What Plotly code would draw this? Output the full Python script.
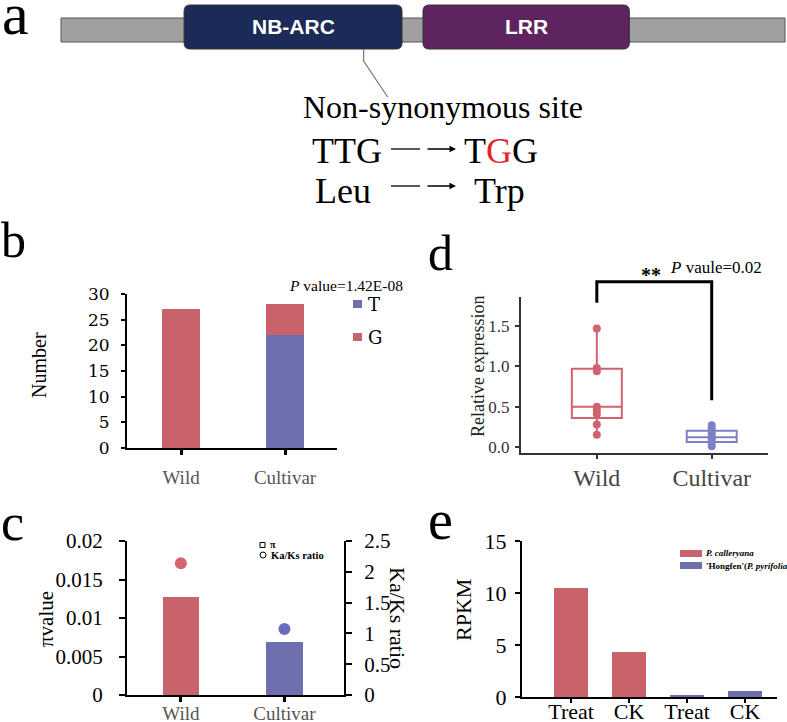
import plotly.graph_objects as go

W, H = 787, 722

# ---------------- data ----------------
# panel a : protein schematic (relative residue positions)
gene_len = 1000
domain_names = ["NB-ARC", "LRR"]
domain_start = [170, 500]
domain_end = [471, 785]
site_pos = 418

# panel b : allele counts
b_groups = ["Wild", "Cultivar"]
b_T = [0, 22]
b_G = [27, 6]
b_yticks = [0, 5, 10, 15, 20, 25, 30]

# panel c : pi and Ka/Ks
c_groups = ["Wild", "Cultivar"]
c_pi = [0.0127, 0.0069]
c_kaks = [2.14, 1.07]
c_left_ticks = [0, 0.005, 0.01, 0.015, 0.02]
c_left_text = ["0", "0.005", "0.01", "0.015", "0.02"]
c_right_ticks = [0, 0.5, 1, 1.5, 2, 2.5]
c_right_text = ["0", "0.5", "1", "1.5", "2", "2.5"]

# panel d : relative expression
d_groups = ["Wild", "Cultivar"]
d_wild_pts = [1.47, 0.98, 0.94, 0.50, 0.46, 0.41, 0.28, 0.15]
d_cult_pts = [0.27, 0.23, 0.19, 0.15, 0.12, 0.09, 0.05, 0.01]
d_q1 = [0.36, 0.06]
d_median = [0.50, 0.12]
d_q3 = [0.97, 0.20]
d_lowerfence = [0.15, 0.01]
d_upperfence = [1.47, 0.27]
d_yticks = [0, 0.5, 1.0, 1.5]
d_ytext = ["0.0", "0.5", "1.0", "1.5"]

# panel e : RPKM
e_labels = ["Treat", "CK", "Treat", "CK"]
e_calleryana = [10.5, 4.3]
e_hongfen = [0.15, 0.6]
e_yticks = [0, 5, 10, 15]

# ---------------- styles ----------------
RED = "#c8636c"
BLUE = "#6d6fae"
RED_D = "#d0636f"
BLUE_D = "#7f80c4"
SERIF = "Liberation Serif"


def px(x):
    return x / W


def py(y):
    return 1 - y / H


fig = go.Figure()
shapes = []
anns = []


def ann(text, x, y, size, color="black", family=SERIF, xanchor="center",
        yanchor="middle", angle=0):
    anns.append(dict(text=text, x=px(x), y=py(y), xref="paper", yref="paper",
                     showarrow=False, xanchor=xanchor, yanchor=yanchor,
                     textangle=angle, font=dict(family=family, size=size, color=color)))


# ---------------- panel a ----------------
A_X0, A_X1 = 61, 785


def a_x(pos):
    return A_X0 + pos / gene_len * (A_X1 - A_X0)


def rrect(x0, y0, x1, y1, r):
    X0, X1 = px(x0), px(x1)
    Y0, Y1 = py(y0), py(y1)
    rx, ry = r / W, r / H
    return (f"M{X0+rx},{Y0} L{X1-rx},{Y0} Q{X1},{Y0} {X1},{Y0-ry} "
            f"L{X1},{Y1+ry} Q{X1},{Y1} {X1-rx},{Y1} L{X0+rx},{Y1} "
            f"Q{X0},{Y1} {X0},{Y1+ry} L{X0},{Y0-ry} Q{X0},{Y0} {X0+rx},{Y0} Z")


shapes.append(dict(type="rect", xref="paper", yref="paper",
                   x0=px(a_x(0)), x1=px(a_x(gene_len)), y0=py(42), y1=py(18),
                   fillcolor="#a0a0a0", line=dict(color="#555555", width=1)))
dom_colors = ["#1c2a57", "#5d2460"]
for name, s, e, col in zip(domain_names, domain_start, domain_end, dom_colors):
    shapes.append(dict(type="path", xref="paper", yref="paper",
                       path=rrect(a_x(s), 5, a_x(e), 49, 6),
                       fillcolor=col, line=dict(color="#333333", width=1)))
    ann(f"<b>{name}</b>", (a_x(s) + a_x(e)) / 2, 27, 21, color="white",
        family="Liberation Sans")

sx = a_x(site_pos)
shapes.append(dict(type="path", xref="paper", yref="paper",
                   path=f"M{px(sx)},{py(49)} L{px(sx)},{py(61)} L{px(sx+24)},{py(97)}",
                   line=dict(color="#777777", width=1.2)))
ann("Non-synonymous site", 443, 107, 32)
ann("TTG", 310, 151, 36, xanchor="left")
ann("T<span style='color:#e3242b'>G</span>G", 462, 151, 36, xanchor="left")
ann("Leu", 313, 191, 36, xanchor="left")
ann("Trp", 472, 191, 36, xanchor="left")
for yy in (149, 186):
    shapes.append(dict(type="line", xref="paper", yref="paper",
                       x0=px(391), x1=px(420), y0=py(yy), y1=py(yy),
                       line=dict(color="black", width=1.3)))
    anns.append(dict(text="", x=px(456), y=py(yy), xref="paper", yref="paper",
                     ax=-30, ay=0, showarrow=True, arrowhead=2, arrowsize=1,
                     arrowwidth=1.3, arrowcolor="black"))

# panel letters
ann("a", 15, 14, 60)
ann("b", 13, 240, 50)
ann("c", 12, 522, 52)
ann("d", 441, 253, 50)
ann("e", 440, 520, 56)

# ---------------- panel b ----------------
fig.add_trace(go.Bar(x=[0, 1], y=b_T, marker_color=BLUE, width=0.365,
                     marker_line_width=0, xaxis="x", yaxis="y", name="T"))
fig.add_trace(go.Bar(x=[0, 1], y=b_G, marker_color=RED, width=0.365,
                     marker_line_width=0, xaxis="x", yaxis="y", name="G"))
ann("<i>P</i> value=1.42E-08", 287, 285, 15.5, xanchor="left")
shapes.append(dict(type="rect", xref="paper", yref="paper", x0=px(353), x1=px(362),
                   y0=py(308), y1=py(300), fillcolor=BLUE, line_width=0))
shapes.append(dict(type="rect", xref="paper", yref="paper", x0=px(353), x1=px(362),
                   y0=py(341), y1=py(333), fillcolor=RED, line_width=0))
ann("T", 366, 304, 18, xanchor="left", family="DejaVu Serif")
ann("G", 366, 337, 18, xanchor="left", family="DejaVu Serif")
ann("Number", 39, 365, 20, angle=-90)

# ---------------- panel c ----------------
fig.add_trace(go.Bar(x=[0, 1], y=c_pi, marker_color=[RED, BLUE], width=0.35,
                     marker_line_width=0, xaxis="x2", yaxis="y2", name="π"))
fig.add_trace(go.Scatter(x=[0, 1], y=c_kaks, mode="markers",
                         marker=dict(size=12, color=["#d5646e", "#6a6cbd"]),
                         xaxis="x2", yaxis="y3", name="Ka/Ks ratio"))
ann("πvalue", 46, 619, 21, angle=-90)
ann("Ka/Ks ratio", 398, 618, 22, angle=90)
shapes.append(dict(type="rect", xref="paper", yref="paper", x0=px(260), x1=px(265),
                   y0=py(547.5), y1=py(542.5), line=dict(color="black", width=1)))
shapes.append(dict(type="circle", xref="paper", yref="paper", x0=px(260), x1=px(266),
                   y0=py(558), y1=py(552), line=dict(color="black", width=1)))
ann("<b>π</b>", 268, 544, 10, xanchor="left")
ann("<b>Ka/Ks ratio</b>", 269, 555, 10.5, xanchor="left")

# ---------------- panel d ----------------
for i, (pts, col) in enumerate([(d_wild_pts, RED_D), (d_cult_pts, BLUE_D)]):
    fig.add_trace(go.Box(x=[i], q1=[d_q1[i]], median=[d_median[i]], q3=[d_q3[i]],
                         lowerfence=[d_lowerfence[i]], upperfence=[d_upperfence[i]],
                         width=0.435, fillcolor="rgba(255,255,255,0)",
                         line=dict(color=col, width=2), whiskerwidth=0,
                         xaxis="x4", yaxis="y4", name=d_groups[i]))
    fig.add_trace(go.Scatter(x=[i] * len(pts), y=pts, mode="markers",
                             marker=dict(size=8, color=col),
                             xaxis="x4", yaxis="y4", name=d_groups[i]))

D_DOM_X = (521, 768)
D_RX = (-0.66, 1.49)
D_DOM_Y = (453, 297)
D_RY = (-0.075, 1.86)


def d_px(v):
    return D_DOM_X[0] + (v - D_RX[0]) / (D_RX[1] - D_RX[0]) * (D_DOM_X[1] - D_DOM_X[0])


def d_py(v):
    return D_DOM_Y[0] + (v - D_RY[0]) / (D_RY[1] - D_RY[0]) * (D_DOM_Y[1] - D_DOM_Y[0])


br_top, br_left, br_right = 2.05, 1.79, 0.58
shapes.append(dict(type="path", xref="paper", yref="paper",
                   path=(f"M{px(d_px(0))},{py(d_py(br_left))} L{px(d_px(0))},{py(d_py(br_top))} "
                         f"L{px(d_px(1))},{py(d_py(br_top))} L{px(d_px(1))},{py(d_py(br_right))}"),
                   line=dict(color="black", width=3)))
ann("<b>**</b>", 651, 275, 20)
ann("<i>P</i> vaule=0.02", 668, 267, 17, xanchor="left")
ann("Relative expression", 478, 367, 18, angle=-90, color="#222222")

# ---------------- panel e ----------------
fig.add_trace(go.Bar(x=[0, 1], y=e_calleryana, marker_color=RED, width=0.6,
                     marker_line_width=0, xaxis="x5", yaxis="y5", name="P. calleryana"))
fig.add_trace(go.Bar(x=[2, 3], y=e_hongfen, marker_color=BLUE, width=0.6,
                     marker_line_width=0, xaxis="x5", yaxis="y5",
                     name="'Hongfen'(P. pyrifolia)"))
shapes.append(dict(type="rect", xref="paper", yref="paper", x0=px(680), x1=px(702),
                   y0=py(557), y1=py(550), fillcolor=RED, line_width=0))
shapes.append(dict(type="rect", xref="paper", yref="paper", x0=px(680), x1=px(702),
                   y0=py(569), y1=py(562), fillcolor=BLUE, line_width=0))
ann("<b><i>P. calleryana</i></b>", 704, 553, 9, xanchor="left")
ann("<b>'Hongfen'(<i>P. pyrifolia</i>)</b>", 704, 566, 9, xanchor="left")
ann("RPKM", 463, 610, 22, angle=-90)

# ---------------- axes ----------------
def xax(dom, rng, tv, tt, size, color, anchor, linecolor="black", tickw=3, ticklen=5,
        standoff=8):
    return dict(domain=[px(dom[0]), px(dom[1])], range=list(rng), tickvals=tv,
                ticktext=tt, ticks="outside", ticklen=ticklen, tickwidth=tickw,
                tickcolor=linecolor, showline=True, linecolor=linecolor, linewidth=2,
                showgrid=False, zeroline=False, anchor=anchor, fixedrange=True,
                automargin=False,
                tickfont=dict(family=SERIF, size=size, color=color),
                ticklabelstandoff=standoff)


def yax(dom, rng, tv, tt, size, color, anchor, family=SERIF, linecolor="black",
        side="left", standoff=6, ticklen=5):
    return dict(domain=[py(dom[0]), py(dom[1])], range=list(rng), tickvals=tv,
                ticktext=tt, ticks="outside", ticklen=ticklen, tickwidth=2,
                tickcolor=linecolor, showline=True, linecolor=linecolor, linewidth=2,
                showgrid=False, zeroline=False, anchor=anchor, side=side,
                fixedrange=True, automargin=False,
                tickfont=dict(family=family, size=size, color=color),
                ticklabelstandoff=standoff)


layout = dict(
    width=W, height=H, margin=dict(l=0, r=0, t=0, b=0, autoexpand=False),
    paper_bgcolor="white", plot_bgcolor="white", showlegend=False,
    barmode="stack",
    xaxis=xax((127, 337), (-0.52, 1.5), [0, 1], b_groups, 19, "#555555", "y",
              standoff=6),
    yaxis=yax((448, 294), (0, 30), b_yticks, [str(v) for v in b_yticks], 17, "black",
              "x", family="DejaVu Serif", standoff=8, ticklen=4),
    xaxis2=xax((127, 344), (-0.52, 1.575), [0, 1], c_groups, 19, "#555555", "y2",
               standoff=-5),
    yaxis2=yax((695, 541), (0, 0.02), c_left_ticks, c_left_text, 21, "black", "x2",
               standoff=12, ticklen=6),
    yaxis3=dict(yax((695, 541), (0, 2.5), c_right_ticks, c_right_text, 21, "black",
                    "x2", side="right", standoff=8, ticklen=6), overlaying="y2"),
    xaxis4=xax(D_DOM_X, D_RX, [0, 1], d_groups, 24, "#444444", "y4",
               linecolor="#333333", tickw=2, ticklen=4, standoff=-2),
    yaxis4=yax(D_DOM_Y, D_RY, d_yticks, d_ytext, 17, "#333333", "x4",
               linecolor="#333333", standoff=2, ticklen=4),
    xaxis5=xax((522, 777), (-0.845, 3.55), [0, 1, 2, 3], e_labels, 22, "black", "y5",
               tickw=1.5, ticklen=4, standoff=-10),
    yaxis5=yax((697, 541), (0, 15), e_yticks, [str(v) for v in e_yticks], 22, "black",
               "x5", standoff=4, ticklen=5),
    shapes=shapes, annotations=anns,
)
fig.update_layout(**layout)
fig.write_html(
    "out.html",
    config={"displayModeBar": False, "staticPlot": True},
    post_script="document.body.style.margin='0';document.body.style.overflow='hidden';",
)
